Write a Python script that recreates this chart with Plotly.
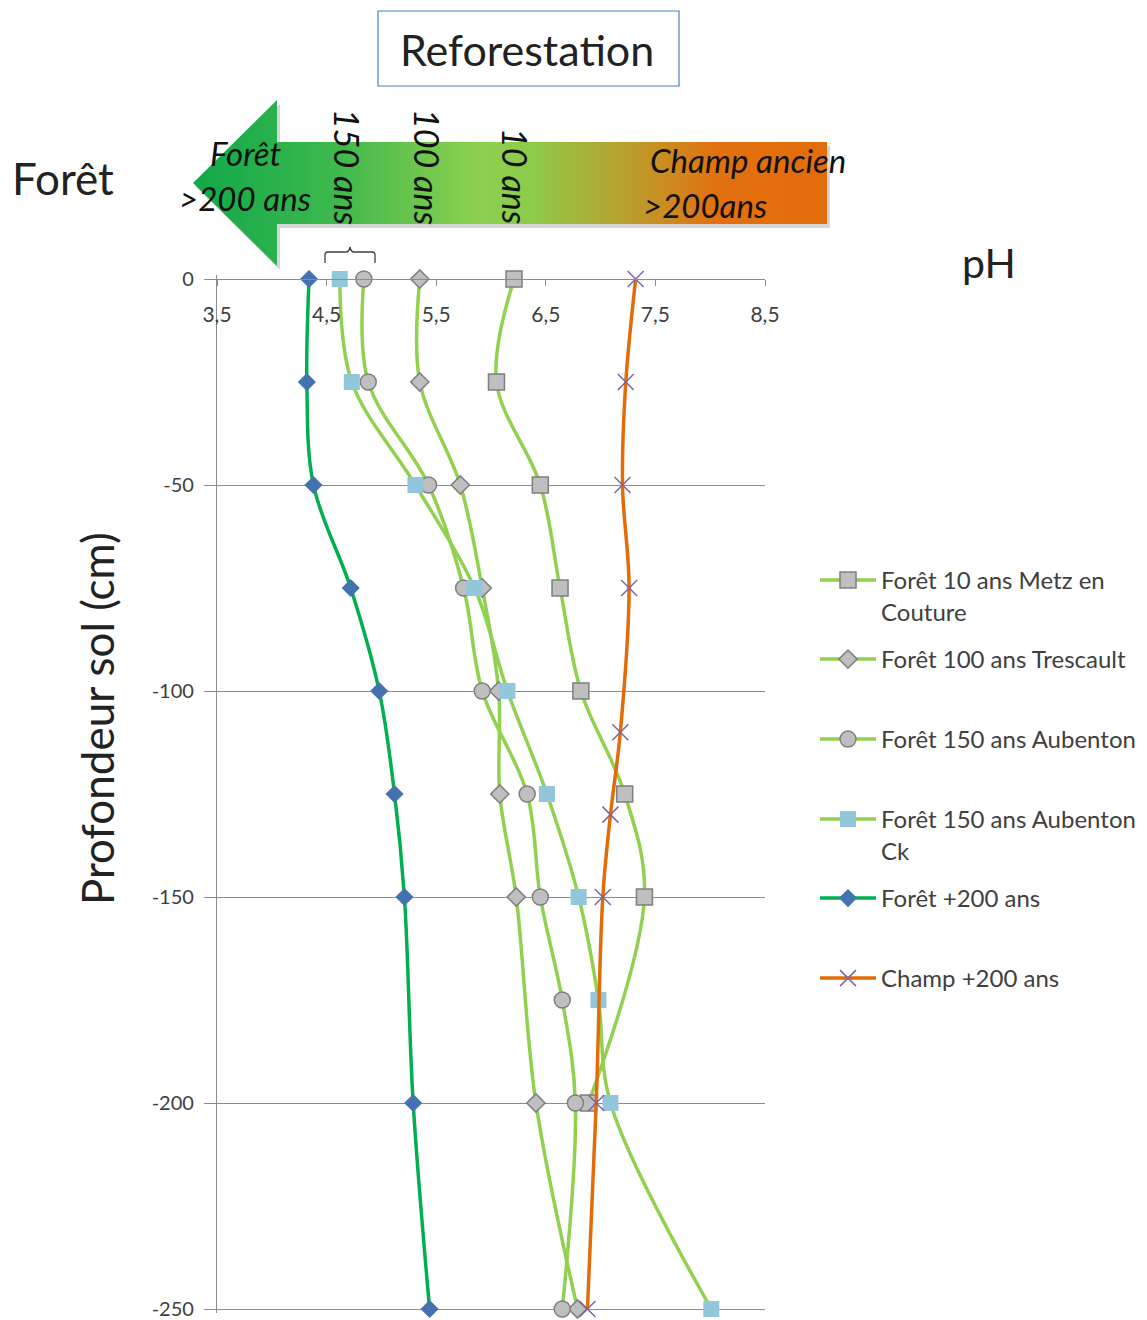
import plotly.graph_objects as go

# page body has an 8px margin: figure is drawn 8px right/down of the window origin
OFF = 8
WIN_W, WIN_H = 1147, 1320
W, H = WIN_W - OFF, WIN_H - OFF

# ---------------- data (pH by soil depth in cm) ----------------
depth_10 = [0, -25, -50, -75, -100, -125, -150, -200]
ph_10 = [6.21, 6.05, 6.45, 6.63, 6.82, 7.22, 7.40, 6.89]

depth_100 = [0, -25, -50, -75, -100, -125, -150, -200, -250]
ph_100 = [5.35, 5.35, 5.72, 5.92, 6.07, 6.08, 6.23, 6.41, 6.79]

depth_150 = [0, -25, -50, -75, -100, -125, -150, -175, -200, -250]
ph_150 = [4.84, 4.88, 5.43, 5.75, 5.92, 6.33, 6.45, 6.65, 6.77, 6.65]

depth_150ck = [0, -25, -50, -75, -100, -125, -150, -175, -200, -250]
ph_150ck = [4.62, 4.73, 5.31, 5.85, 6.15, 6.51, 6.80, 6.98, 7.09, 8.01]

depth_200 = [0, -25, -50, -75, -100, -125, -150, -200, -250]
ph_200 = [4.34, 4.32, 4.38, 4.72, 4.98, 5.12, 5.21, 5.29, 5.44]

depth_champ = [0, -25, -50, -75, -110, -130, -150, -200, -250]
ph_champ = [7.32, 7.23, 7.20, 7.26, 7.18, 7.09, 7.02, 6.96, 6.88]

x_ticks = [3.5, 4.5, 5.5, 6.5, 7.5, 8.5]
x_ticktext = ["3,5", "4,5", "5,5", "6,5", "7,5", "8,5"]
y_ticks = [0, -50, -100, -150, -200, -250]
y_ticktext = ["0", "-50", "-100", "-150", "-200", "-250"]

names = ["Forêt 10 ans Metz en<br>Couture", "Forêt 100 ans Trescault",
         "Forêt 150 ans Aubenton", "Forêt 150 ans Aubenton<br>Ck",
         "Forêt +200 ans", "Champ +200 ans"]

# ---------------- styles ----------------
LG = "#92d050"
DG = "#00b050"
OR = "#e36c0a"
FONT = "Lato"
TXT = "#404040"


def fx(px):  # window pixel -> paper fraction (x)
    return (px - OFF) / W


def fy(py):  # window pixel -> paper fraction (y)
    return 1 - (py - OFF) / H


fig = go.Figure()

# decorative arrow on a full-page pixel subplot
ax_x = [193, 277, 277, 827, 827, 277, 277, 193]
ax_y = [183, 100, 142, 142, 224, 224, 266, 183]
fig.add_trace(go.Scatter(x=[v + 3 for v in ax_x], y=[v + 4 for v in ax_y], xaxis="x2", yaxis="y2",
                         mode="lines", fill="toself", fillcolor="rgba(0,0,0,0.16)",
                         line=dict(width=0, color="rgba(0,0,0,0)"), showlegend=False, hoverinfo="skip"))
fig.add_trace(go.Scatter(x=ax_x, y=ax_y, xaxis="x2", yaxis="y2", mode="lines", fill="toself",
                         fillgradient=dict(type="horizontal",
                                           colorscale=[[0, "#10a84a"], [0.22, "#3cb84c"], [0.45, "#8dd04f"],
                                                       [0.53, "#8ccc4a"], [0.70, "#bf9a2a"],
                                                       [0.83, "#e2700e"], [1, "#e46c0a"]]),
                         line=dict(width=0, color="rgba(0,0,0,0)"), showlegend=False, hoverinfo="skip"))

common = dict(mode="lines+markers", line_shape="spline", cliponaxis=False)

fig.add_trace(go.Scatter(x=ph_10, y=depth_10, name=names[0], legend="legend",
                         line=dict(color=LG, width=3.5),
                         marker=dict(symbol="square", size=16, color="#bfbfbf",
                                     line=dict(color="#7f7f7f", width=1.5)), **common))
fig.add_trace(go.Scatter(x=ph_100, y=depth_100, name=names[1], legend="legend2",
                         line=dict(color=LG, width=3.5),
                         marker=dict(symbol="diamond", size=14, color="#bfbfbf",
                                     line=dict(color="#7f7f7f", width=1.5)), **common))
fig.add_trace(go.Scatter(x=ph_150, y=depth_150, name=names[2], legend="legend3",
                         line=dict(color=LG, width=3.5),
                         marker=dict(symbol="circle", size=16, color="#bfbfbf",
                                     line=dict(color="#7f7f7f", width=1.5)), **common))
fig.add_trace(go.Scatter(x=ph_150ck, y=depth_150ck, name=names[3], legend="legend4",
                         line=dict(color=LG, width=3.5),
                         marker=dict(symbol="square", size=16, color="#92c6da",
                                     line=dict(width=0)), **common))
fig.add_trace(go.Scatter(x=ph_200, y=depth_200, name=names[4], legend="legend5",
                         line=dict(color=DG, width=3.5),
                         marker=dict(symbol="diamond", size=14, color="#4472b0",
                                     line=dict(width=0)), **common))
fig.add_trace(go.Scatter(x=ph_champ, y=depth_champ, name=names[5], legend="legend6",
                         line=dict(color=OR, width=3.5),
                         marker=dict(symbol="x-thin", size=16, color="#8064a2",
                                     line=dict(color="#8064a2", width=1.5)), **common))

# plot area: pH 3.5 at x=217, 8.5 at x=765 ; depth 0 at y=279, -250 at y=1309
PXCM = (1309 - 279) / 250.0
YPAD = 1.0
x_dom = [fx(217), fx(765)]
y_dom = [fy(1309 + YPAD * PXCM), fy(279 - YPAD * PXCM)]

legend_rows = [580, 659, 739, 819, 898, 978]
legends = {}
for i, yc in enumerate(legend_rows):
    key = "legend" if i == 0 else f"legend{i + 1}"
    legends[key] = dict(x=fx(815), y=fy(yc - 22), xanchor="left", yanchor="top",
                        font=dict(size=24, color=TXT, family=FONT),
                        itemwidth=56, valign="top", bgcolor="rgba(0,0,0,0)")

fig.update_layout(
    width=W, height=H,
    margin=dict(l=0, r=0, t=0, b=0),
    paper_bgcolor="white", plot_bgcolor="rgba(0,0,0,0)",
    font=dict(family=FONT, color=TXT),
    xaxis=dict(domain=x_dom, range=[3.5, 8.5], side="bottom", anchor="free", position=fy(279),
               tickvals=x_ticks, ticktext=x_ticktext,
               ticks="outside", ticklen=6, tickcolor="#8c8c8c", ticklabelstandoff=11,
               showline=True, linecolor="#8c8c8c", linewidth=1.2,
               showgrid=False, zeroline=False, automargin=False,
               tickfont=dict(size=21, color=TXT)),
    yaxis=dict(domain=y_dom, range=[-250 - YPAD, YPAD], anchor="x",
               tickvals=y_ticks, ticktext=y_ticktext, ticks="outside", ticklen=12, tickcolor="#8c8c8c",
               showline=True, linecolor="#8c8c8c", linewidth=1.2,
               showgrid=True, gridcolor="#8c8c8c", gridwidth=1.2, zeroline=False,
               automargin=False, ticklabelstandoff=6,
               tickfont=dict(size=20, color=TXT)),
    xaxis2=dict(domain=[0, 1], range=[OFF, WIN_W], anchor="y2", visible=False, fixedrange=True),
    yaxis2=dict(domain=[0, 1], range=[WIN_H, OFF], anchor="x2", visible=False, fixedrange=True),
    showlegend=True,
    **legends,
)

# title box
fig.add_shape(type="rect", xref="x2", yref="y2", x0=378, x1=679, y0=11, y1=86,
              line=dict(color="#4a7ec8", width=1.2), fillcolor="white")
# brace under "150 ans"
fig.add_shape(type="path", xref="x2", yref="y2",
              path="M 325 263 L 325 255 Q 325 252 328 252 L 346 252 Q 349 252 350 247 "
                   "Q 351 252 354 252 L 372 252 Q 375 252 375 255 L 375 263",
              line=dict(color="#404040", width=1.3))

ann = [
    dict(x=527, y=49, text="Reforestation", font=dict(size=43, color="#222222")),
    dict(x=63, y=178, text="Forêt", font=dict(size=44, color="#222222")),
    dict(x=989, y=262, text="pH", font=dict(size=41, color="#222222")),
    dict(x=97, y=719, text="Profondeur sol (cm)", textangle=-90, font=dict(size=44, color="#222222")),
    dict(x=245, y=153, text="<i>Forêt</i>", font=dict(size=33, color="#111111")),
    dict(x=245, y=198, text="<i>>200 ans</i>", font=dict(size=33, color="#111111")),
    dict(x=748, y=160, text="<i>Champ ancien</i>", font=dict(size=33, color="#111111")),
    dict(x=705, y=205, text="<i>>200ans</i>", font=dict(size=33, color="#111111")),
    dict(x=348, y=167, text="<i>150 ans</i>", textangle=90, font=dict(size=34, color="#111111")),
    dict(x=428, y=167, text="<i>100 ans</i>", textangle=90, font=dict(size=34, color="#111111")),
    dict(x=516, y=176, text="<i>10 ans</i>", textangle=90, font=dict(size=34, color="#111111")),
]
for a in ann:
    a.update(xref="x2", yref="y2", showarrow=False, xanchor="center", yanchor="middle")
    a["font"]["family"] = FONT
    fig.add_annotation(**a)

fig.write_html("out.html")
